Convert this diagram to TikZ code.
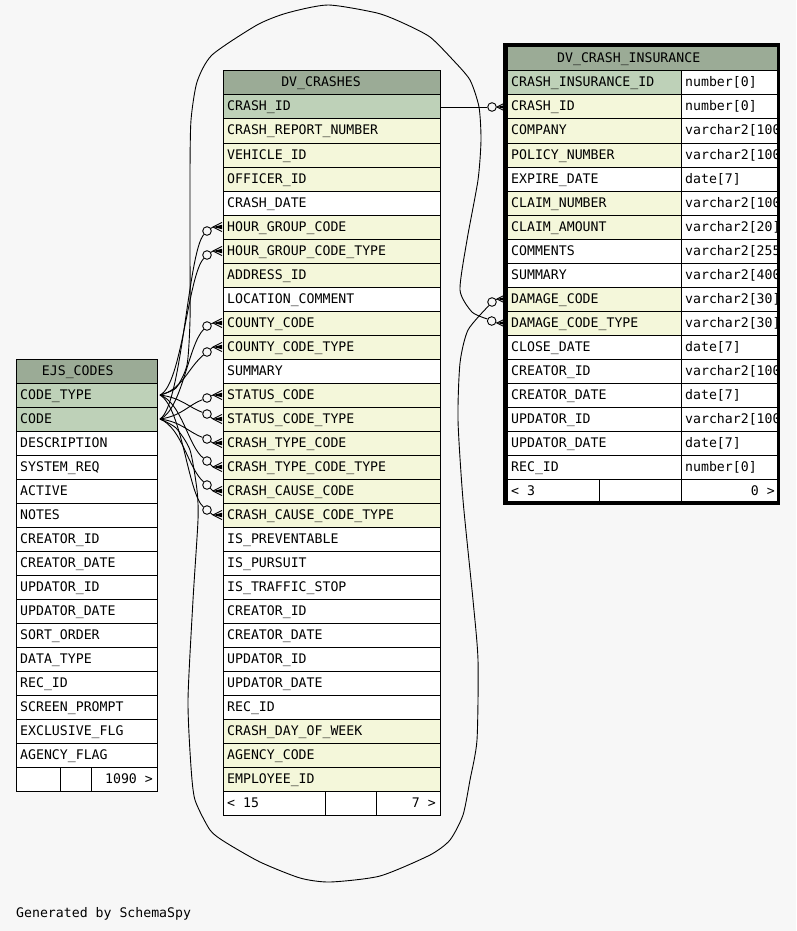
\documentclass[tikz,border=0pt]{standalone}
\usepackage{fontspec}
\newfontfamily\dmono{DejaVu Sans Mono}
\definecolor{bgc}{HTML}{F7F7F7}
\definecolor{hd}{HTML}{9BAB96}
\definecolor{pk}{HTML}{BED1B8}
\definecolor{fk}{HTML}{F4F7DA}
\definecolor{wt}{HTML}{FFFFFF}
\tikzset{
  cellbox/.style={draw=black, line width=1pt, inner sep=0pt, outer sep=0pt, anchor=north west},
  txt/.style={font=\dmono\fontsize{13.2}{14}\selectfont, inner sep=0pt, anchor=base west},
  txtc/.style={txt, anchor=base},
  txtr/.style={txt, anchor=base east},
  link/.style={draw=black, line width=0.9pt},
  ocirc/.style={circle, draw=black, line width=0.9pt, minimum size=8.6pt, inner sep=0pt, fill=bgc},
  pics/crowfoot/.style={code={
    \fill (0,0) -- (9,-2.2) -- (9,2.2) -- cycle;
    \draw[line width=0.9pt] (0,0) -- (9,-4.6) (0,0) -- (9,4.6);}}
}
\begin{document}
\begin{tikzpicture}[x=1pt,y=-1pt]
\fill[bgc] (0,0) rectangle (796,931);
\useasboundingbox (0,0) rectangle (796,931);

% ---------- DV_CRASHES ----------
\node[cellbox, fill=hd, minimum width=217pt, minimum height=24pt] (crH) at (223,71) {};
\node[txtc] at (321,87) {DV\_CRASHES};
\foreach \n/\c [count=\i from 0] in {
  CRASH\_ID/pk, CRASH\_REPORT\_NUMBER/fk, VEHICLE\_ID/fk, OFFICER\_ID/fk, CRASH\_DATE/wt,
  HOUR\_GROUP\_CODE/fk, HOUR\_GROUP\_CODE\_TYPE/fk, ADDRESS\_ID/fk, LOCATION\_COMMENT/wt,
  COUNTY\_CODE/fk, COUNTY\_CODE\_TYPE/fk, SUMMARY/wt, STATUS\_CODE/fk, STATUS\_CODE\_TYPE/fk,
  CRASH\_TYPE\_CODE/fk, CRASH\_TYPE\_CODE\_TYPE/fk, CRASH\_CAUSE\_CODE/fk, CRASH\_CAUSE\_CODE\_TYPE/fk,
  IS\_PREVENTABLE/wt, IS\_PURSUIT/wt, IS\_TRAFFIC\_STOP/wt, CREATOR\_ID/wt, CREATOR\_DATE/wt,
  UPDATOR\_ID/wt, UPDATOR\_DATE/wt, REC\_ID/wt, CRASH\_DAY\_OF\_WEEK/fk, AGENCY\_CODE/fk, EMPLOYEE\_ID/fk} {
  \node[cellbox, fill=\c, minimum width=217pt, minimum height=24pt] (cr\i) at (223,{95+24*\i}) {};
  \node[txt] at (227,{111+24*\i}) {\n};
}
\node[cellbox, fill=wt, minimum width=102pt, minimum height=24pt] (crF1) at (223,791) {};
\node[cellbox, fill=wt, minimum width=51pt, minimum height=24pt] (crF2) at (325,791) {};
\node[cellbox, fill=wt, minimum width=64pt, minimum height=24pt] (crF3) at (376,791) {};
\node[txt] at (227,807) {< 15};
\node[txtr] at (436,807) {7 >};

% ---------- EJS_CODES ----------
\node[cellbox, fill=hd, minimum width=141pt, minimum height=24pt] (ejH) at (16,359) {};
\node[txtc] at (77.7,375) {EJS\_CODES};
\foreach \n/\c [count=\i from 0] in {
  CODE\_TYPE/pk, CODE/pk, DESCRIPTION/wt, SYSTEM\_REQ/wt, ACTIVE/wt, NOTES/wt, CREATOR\_ID/wt,
  CREATOR\_DATE/wt, UPDATOR\_ID/wt, UPDATOR\_DATE/wt, SORT\_ORDER/wt, DATA\_TYPE/wt, REC\_ID/wt,
  SCREEN\_PROMPT/wt, EXCLUSIVE\_FLG/wt, AGENCY\_FLAG/wt} {
  \node[cellbox, fill=\c, minimum width=141pt, minimum height=24pt] (ej\i) at (16,{383+24*\i}) {};
  \node[txt] at (20,{399+24*\i}) {\n};
}
\node[cellbox, fill=wt, minimum width=44pt, minimum height=24pt] (ejF1) at (16,767) {};
\node[cellbox, fill=wt, minimum width=31pt, minimum height=24pt] (ejF2) at (60,767) {};
\node[cellbox, fill=wt, minimum width=66pt, minimum height=24pt] (ejF3) at (91,767) {};
\node[txtr] at (153,783) {1090 >};

% ---------- DV_CRASH_INSURANCE ----------
\node[cellbox, fill=hd, minimum width=270pt, minimum height=24pt] (inH) at (507,47) {};
\node[txtc] at (628.7,63) {DV\_CRASH\_INSURANCE};
\foreach \n/\c/\t [count=\i from 0] in {
  CRASH\_INSURANCE\_ID/pk/number[0], CRASH\_ID/fk/number[0], COMPANY/fk/varchar2[100],
  POLICY\_NUMBER/fk/varchar2[100], EXPIRE\_DATE/wt/date[7], CLAIM\_NUMBER/fk/varchar2[100],
  CLAIM\_AMOUNT/fk/varchar2[20], COMMENTS/wt/varchar2[255], SUMMARY/wt/varchar2[400],
  DAMAGE\_CODE/fk/varchar2[30], DAMAGE\_CODE\_TYPE/fk/varchar2[30], CLOSE\_DATE/wt/date[7],
  CREATOR\_ID/wt/varchar2[100], CREATOR\_DATE/wt/date[7], UPDATOR\_ID/wt/varchar2[100],
  UPDATOR\_DATE/wt/date[7], REC\_ID/wt/number[0]} {
  \node[cellbox, fill=\c, minimum width=174pt, minimum height=24pt] (in\i) at (507,{71+24*\i}) {};
  \node[cellbox, fill=wt, minimum width=96pt, minimum height=24pt] (inT\i) at (681,{71+24*\i}) {};
  \node[txt] at (511,{87+24*\i}) {\n};
  \begin{scope}
    \clip (681,{71+24*\i}) rectangle (777,{95+24*\i});
    \node[txt] at (685,{87+24*\i}) {\t};
  \end{scope}
}
\node[cellbox, fill=wt, minimum width=92pt, minimum height=22pt] (inF1) at (507,479) {};
\node[cellbox, fill=wt, minimum width=82pt, minimum height=22pt] (inF2) at (599,479) {};
\node[cellbox, fill=wt, minimum width=96pt, minimum height=22pt] (inF3) at (681,479) {};
\node[txt] at (511,495) {< 3};
\node[txtr] at (775,495) {0 >};
\draw[line width=3.4pt] (505,45) rectangle (778.5,503.5);

% ---------- connectors ----------
\coordinate (pCT) at (160,395);
\coordinate (pC) at (160,419);

\foreach \r/\yc/\src/\ca/\cb in {
  5/231/pC/405/252, 9/326/pC/410/345, 12/398/pC/416/405, 14/439/pC/422/432, 16/485/pC/428/468,
  6/255/pCT/385/275, 10/352/pCT/390/368, 13/414/pCT/398/407, 15/461/pCT/403/446, 17/510/pCT/408/494} {
  \node[ocirc] (o\r) at (207,\yc) {};
  \coordinate (v\r) at (213,{107+24*\r});
  \pic at (v\r) {crowfoot};
  \draw[link] (o\r) -- (v\r);
  \draw[link] (\src) .. controls (182,\ca) and (188,\cb) .. (o\r);
}

% CRASH_ID -> insurance
\node[ocirc] (oI1) at (492,107) {};
\coordinate (vI1) at (497,107);
\pic at (vI1) {crowfoot};
\draw[link] (cr0.east) -- (oI1);
\draw[link] (oI1) -- (vI1);

% DAMAGE_CODE and DAMAGE_CODE_TYPE
\node[ocirc] (oD9) at (492,302) {};
\coordinate (vD9) at (497,299);
\pic at (vD9) {crowfoot};
\draw[link] (oD9) -- (vD9);
\node[ocirc] (oD10) at (491.7,321) {};
\coordinate (vD10) at (497,323);
\pic at (vD10) {crowfoot};
\draw[link] (oD10) -- (vD10);

\draw[link] plot[smooth, tension=0.4] coordinates {(pCT) (176,388) (187,365) (190,320) (190,250)
  (190,170) (191,120) (197,82) (212,55) (257,25) (287,13) (328,5) (377,13) (403,23) (430,37)
  (453,60) (470,80) (479,107) (481,140) (478,180) (467,240) (460,290) (472,312) (oD10.155)};

\draw[link] plot[smooth, tension=0.4] coordinates {(pC) (176,428) (190,450) (197,490) (198,520)
  (193,600) (188,700) (191,767) (195,800) (210,830) (225,842) (260,862) (300,878) (330,882)
  (380,876) (430,855) (450,840) (463,815) (470,780) (477,740) (478,660) (473,600) (463,500)
  (458,420) (460,363) (468,330) (oD9.229)};

\node[txt] (gen) at (16,917) {Generated by SchemaSpy};
\end{tikzpicture}
\end{document}
